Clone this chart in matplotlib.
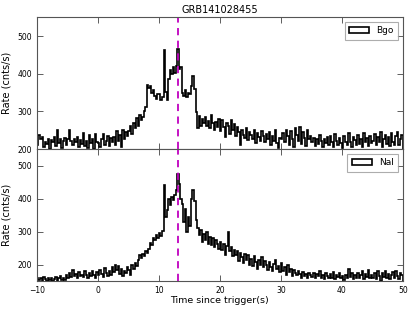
import numpy as np
import matplotlib
matplotlib.use("Agg")
import matplotlib.pyplot as plt

# light curves of GRB141028455, 0.25 s bins from -10 s to 50 s
bin_edges = np.arange(-10, 50.001, 0.25)

bgo_rate = [
    212, 238, 226, 231, 205, 220, 214, 228, 201, 224,
    218, 232, 209, 250, 215, 226, 204, 221, 230, 212,
    226, 251, 222, 210, 228, 219, 233, 206, 225, 214,
    242, 209, 221, 203, 238, 215, 226, 201, 240, 218,
    215, 205, 228, 240, 210, 222, 236, 208, 230, 218,
    232, 210, 248, 222, 238, 205, 252, 228, 245, 236,
    248, 262, 240, 268, 255, 282, 262, 290, 278, 285,
    300, 312, 370, 362, 368, 350, 356, 340, 332, 345,
    345, 330, 338, 462, 352, 330, 385, 410, 398, 418,
    402, 420, 466, 412, 418, 350, 342, 356, 338, 350,
    345, 368, 393, 360, 298, 255, 288, 262, 280, 268,
    285, 262, 275, 255, 290, 268, 252, 272, 260, 280,
    248, 276, 258, 232, 270, 262, 240, 278, 252, 266,
    236, 258, 245, 210, 252, 238, 230, 256, 224, 246,
    238, 228, 250, 215, 242, 232, 222, 248, 234, 218,
    240, 226, 245, 212, 236, 222, 250, 215, 204, 230,
    228, 244, 218, 252, 235, 210, 248, 226, 206, 256,
    238, 222, 260, 214, 245, 230, 208, 250, 226, 234,
    218, 230, 208, 226, 214, 238, 222, 205, 228, 216,
    232, 210, 236, 218, 206, 240, 222, 212, 230, 216,
    204, 236, 220, 212, 242, 218, 206, 232, 224, 210,
    238, 214, 226, 205, 244, 220, 230, 208, 236, 216,
    222, 240, 210, 232, 218, 245, 206, 228, 238, 214,
    232, 208, 242, 220, 212, 236, 246, 210, 226, 238,
]

nai_rate = [
    160, 152, 158, 150, 162, 155, 150, 158, 153, 160,
    150, 156, 162, 151, 158, 165, 154, 160, 152, 168,
    158, 175, 162, 185, 166, 172, 158, 178, 164, 170,
    162, 180, 168, 158, 176, 165, 182, 170, 160, 178,
    168, 185, 172, 162, 190, 175, 165, 182, 170, 192,
    178, 200, 185, 195, 172, 188, 165, 180, 175, 192,
    185, 170, 198, 188, 205, 196, 215, 228, 220, 232,
    225, 240, 236, 248, 265, 258, 282, 275, 290, 280,
    295, 288, 302, 441, 345, 365, 398, 380, 405, 395,
    410, 425, 475, 445, 398, 385, 330, 370, 300, 345,
    318, 400, 426, 392, 335, 312, 290, 305, 268, 292,
    275, 300, 262, 285, 258, 280, 252, 275, 262, 248,
    268, 245, 262, 230, 255, 298, 240, 252, 225, 245,
    228, 242, 210, 235, 222, 205, 232, 215, 228, 200,
    218, 195, 225, 208, 188, 215, 200, 222, 192, 210,
    198, 185, 208, 192, 180, 202, 215, 188, 196, 178,
    205, 182, 192, 170, 198, 178, 188, 165, 185, 175,
    168, 182, 172, 160, 178, 165, 172, 158, 175, 168,
    162, 176, 158, 172, 165, 180, 160, 170, 155, 175,
    165, 158, 172, 160, 178, 155, 168, 162, 175, 158,
    165, 152, 170, 158, 186, 162, 174, 155, 168, 160,
    176, 158, 168, 180, 155, 172, 162, 184, 158, 170,
    160, 175, 155, 182, 165, 150, 176, 162, 180, 158,
    172, 156, 168, 178, 160, 182, 165, 155, 175, 168,
]

peak_time = 13.2

fig = plt.figure(figsize=(4.15, 3.12), dpi=100)
ax1 = fig.add_axes([0.089, 0.522, 0.882, 0.423])
ax2 = fig.add_axes([0.089, 0.099, 0.882, 0.423], sharex=ax1)

panels = [(ax1, bgo_rate, "Bgo", (200, 550)), (ax2, nai_rate, "NaI", (150, 550))]
for ax, rate, name, ylim in panels:
    ax.hist(bin_edges[:-1], bins=bin_edges, weights=rate, histtype="step",
            color="black", linewidth=1.2, label=name)
    ax.axvline(peak_time, color="m", linestyle="--", linewidth=1.3, dashes=(4, 3))
    ax.set_xlim(-10, 50)
    ax.set_ylim(*ylim)
    ax.set_yticks([200, 300, 400, 500])
    ax.set_ylabel("Rate (cnts/s)", fontsize=7)
    ax.tick_params(direction="in", top=True, right=True, labelsize=5.5, length=4,
                   width=0.6, color="#444444")
    for sp in ax.spines.values():
        sp.set_linewidth(0.8)
        sp.set_color("#555555")
    leg = ax.legend(loc="upper right", fontsize=6.5, fancybox=False,
                    handlelength=2.2, borderpad=0.5)
    leg.get_frame().set_edgecolor("#999999")
    leg.get_frame().set_linewidth(0.8)

plt.setp(ax1.get_xticklabels(), visible=False)
ax1.set_title("GRB141028455", fontsize=7, pad=3)
ax2.set_xticks([-10, 0, 10, 20, 30, 40, 50])
ax2.set_xlabel("Time since trigger(s)", fontsize=6.8, labelpad=1)

fig.savefig("out.png", dpi=100)
